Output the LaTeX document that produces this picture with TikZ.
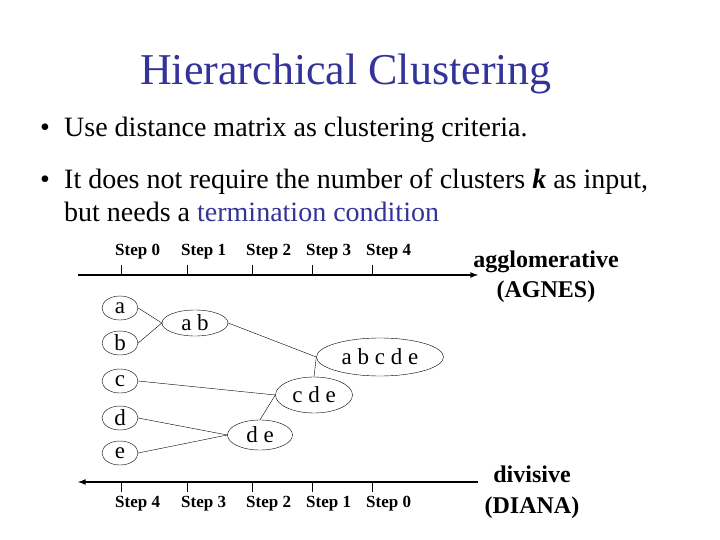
\documentclass[tikz,border=0pt]{standalone}
\usepackage{fontspec}
\setmainfont{Liberation Serif}
\usetikzlibrary{shapes.geometric}
\definecolor{slideblue}{RGB}{51,51,153}

\begin{document}
\begin{tikzpicture}[x=1pt,y=-1pt,
    leaf/.style={draw,ellipse,inner sep=0pt,minimum width=36pt,minimum height=24pt,font=\fontsize{23}{25}\selectfont},
    merged/.style={draw,ellipse,inner sep=0pt,font=\fontsize{23}{25}\selectfont},
    bodytext/.style={anchor=base west,inner sep=0pt,font=\fontsize{28}{30}\selectfont},
    steplabel/.style={anchor=base west,inner sep=0pt,font=\fontsize{17}{19}\bfseries\selectfont},
    sidelabel/.style={anchor=base,inner sep=0pt,font=\fontsize{24}{26}\bfseries\selectfont},
    axis/.style={line width=1.6pt}]
  \useasboundingbox[fill=white] (0,0) rectangle (720,540);
  % title and bullets
  \node[anchor=base,inner sep=0pt,text=slideblue,font=\fontsize{44}{48}\selectfont] (title) at (346,85) {Hierarchical Clustering};
  \node[bodytext] (dot1) at (40,137) {\textbullet};
  \node[bodytext] (line1) at (64,137) {Use distance matrix as clustering criteria.};
  \node[bodytext] (dot2) at (40,189) {\textbullet};
  \node[bodytext] (line2) at (64,189) {It does not require the number of clusters \textbf{\textit{k}} as input,};
  \node[bodytext] (line3) at (64,222) {but needs a \textcolor{slideblue}{termination condition}};
  % agglomerative axis
  \coordinate (top0) at (78,275);
  \coordinate (top1) at (478,275);
  \draw[axis,-latex] (top0) -- (top1);
  \foreach \x/\s in {121/0,187/1,252/2,312/3,372/4}{
    \draw (\x,265) -- (\x,275);
    \node[steplabel] at (\x-6,255) {Step \s};
  }
  % divisive axis
  \coordinate (bot0) at (478,482);
  \coordinate (bot1) at (78,482);
  \draw[axis,-latex] (bot0) -- (bot1);
  \foreach \x/\s in {121/4,187/3,252/2,312/1,372/0}{
    \draw (\x,482) -- (\x,492);
    \node[steplabel] at (\x-6,507) {Step \s};
  }
  % clusters
  \node[leaf] (a) at (120,308) {a};
  \node[leaf] (b) at (120,343) {b};
  \node[leaf] (c) at (120,381) {c};
  \node[leaf] (d) at (120,418) {d};
  \node[leaf] (e) at (120,453) {e};
  \node[merged,minimum width=66pt,minimum height=26pt] (ab) at (195,323) {a b};
  \node[merged,minimum width=127pt,minimum height=38pt] (abcde) at (380,357) {a b c d e};
  \node[merged,minimum width=77pt,minimum height=36pt] (cde) at (314,395) {c d e};
  \node[merged,minimum width=65pt,minimum height=30pt] (de) at (260,435) {d e};
  \draw (a.east) -- (ab.west);
  \draw (b.east) -- (ab.west);
  \draw (ab.east) -- (abcde.west);
  \draw (cde.north) -- (abcde.west);
  \draw (c.east) -- (cde.west);
  \draw (de.north) -- (cde.west);
  \draw (d.east) -- (de.west);
  \draw (e.east) -- (de.west);
  % side labels
  \node[sidelabel] (agg) at (546,267) {agglomerative};
  \node[sidelabel] (agnes) at (546,297) {(AGNES)};
  \node[sidelabel] (div) at (532,482) {divisive};
  \node[sidelabel] (diana) at (532,513) {(DIANA)};
\end{tikzpicture}
\end{document}
